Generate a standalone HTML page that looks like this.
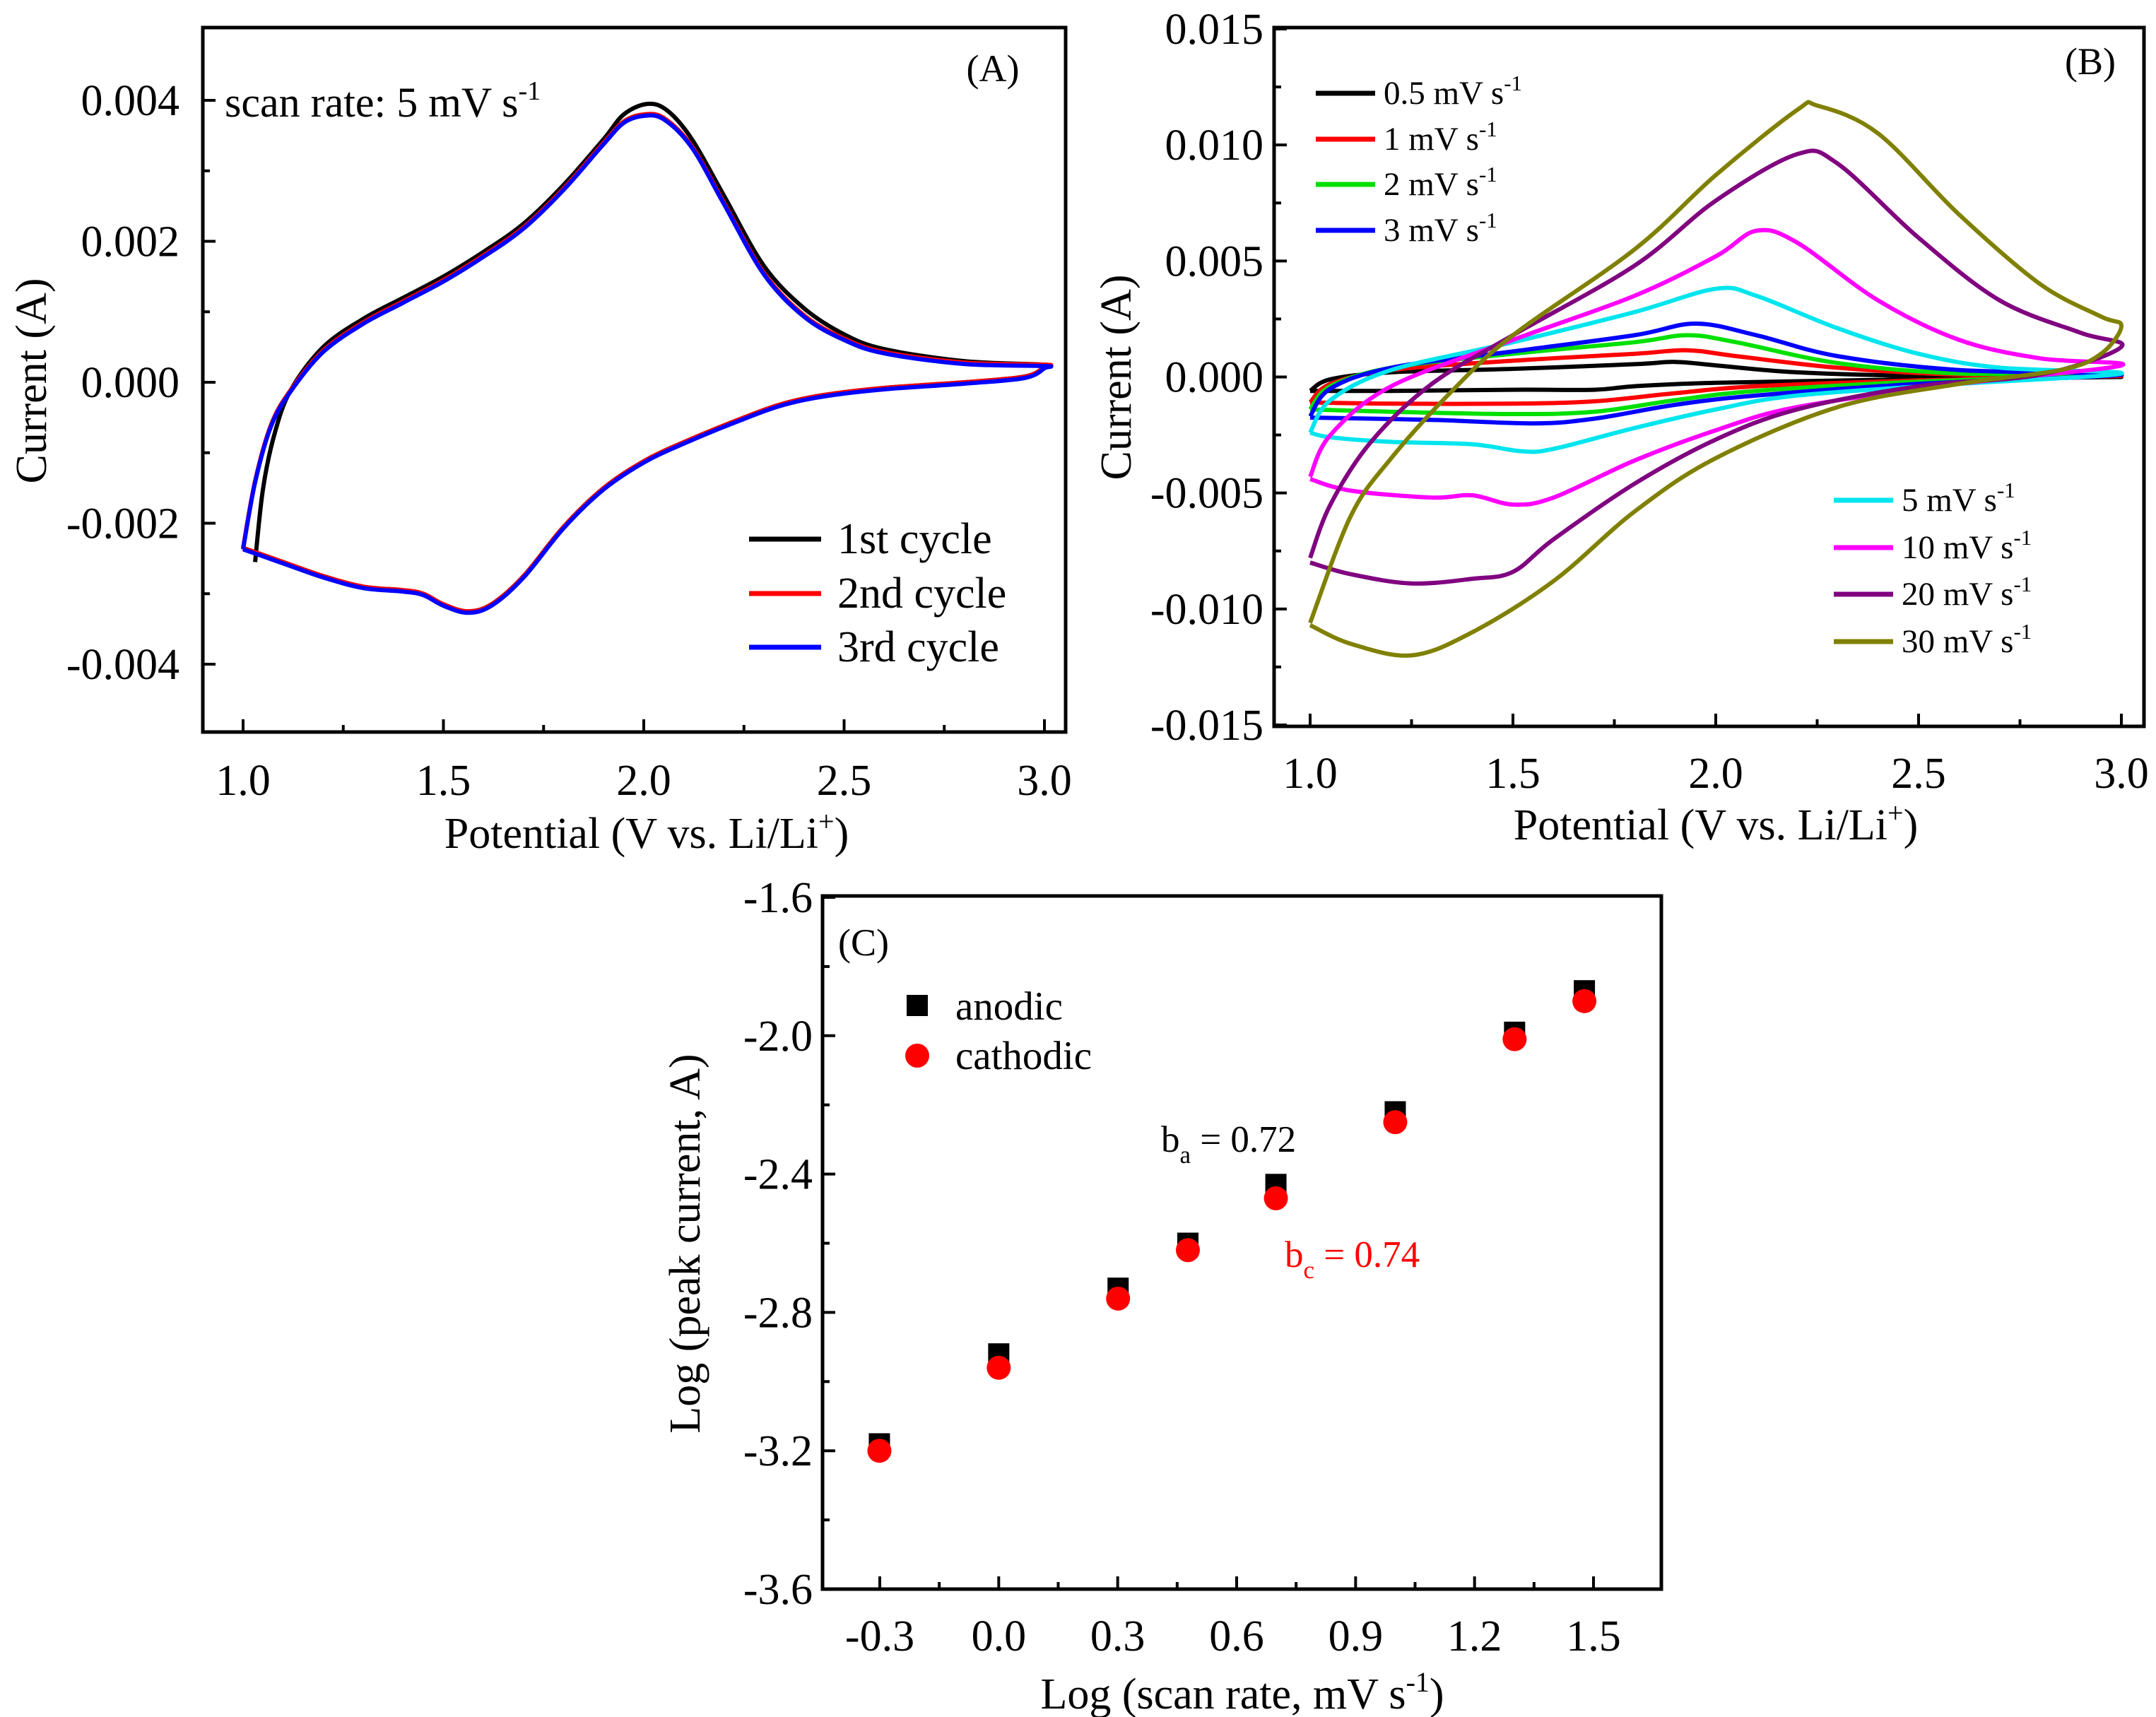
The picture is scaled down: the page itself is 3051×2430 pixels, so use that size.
<!DOCTYPE html>
<html><head><meta charset="utf-8"><style>
html,body{margin:0;padding:0;background:#fff;}
svg{display:block;font-family:"Liberation Serif",serif;}
</style></head><body>
<svg id="fig" width="3051" height="2430" viewBox="0 0 3051 2430" xmlns="http://www.w3.org/2000/svg">
<rect width="3051" height="2430" fill="#fff"/>
</svg>
<script>
// ---------- Panel A data (V, mA) ----------
const aC1Fwd=[[1.03,-2.55],[1.05,-1.5],[1.08,-0.7],[1.12,-0.1],[1.2,0.5],[1.3,0.9],[1.4,1.2],[1.5,1.5],[1.6,1.85],[1.7,2.25],[1.8,2.8],[1.9,3.45],[1.95,3.8],[2.01,3.95],[2.06,3.85],[2.12,3.45],[2.2,2.65],[2.3,1.65],[2.4,1.05],[2.5,0.68],[2.6,0.47],[2.8,0.3],[3.0,0.25]];
const aC2Fwd=[[1.0,-2.35],[1.03,-1.4],[1.07,-0.6],[1.12,-0.1],[1.2,0.45],[1.3,0.85],[1.4,1.15],[1.5,1.45],[1.6,1.8],[1.7,2.2],[1.8,2.75],[1.9,3.4],[1.95,3.7],[2.0,3.8],[2.05,3.75],[2.12,3.35],[2.2,2.55],[2.3,1.55],[2.4,0.95],[2.5,0.62],[2.6,0.43],[2.8,0.28],[3.0,0.25]];
const aRev=[[3.0,0.22],[2.95,0.08],[2.8,0.0],[2.6,-0.08],[2.45,-0.18],[2.35,-0.3],[2.25,-0.5],[2.1,-0.85],[2.0,-1.12],[1.9,-1.5],[1.8,-2.05],[1.7,-2.75],[1.62,-3.15],[1.56,-3.25],[1.5,-3.15],[1.45,-3.0],[1.4,-2.95],[1.3,-2.9],[1.2,-2.75],[1.1,-2.55],[1.0,-2.35]];
const aSeriesNames=["1st cycle","2nd cycle","3rd cycle"];
const aColors=["#000000","#ff0000","#0000ff"];
const aXTicks=[1.0,1.5,2.0,2.5,3.0];
const aYTicks=[0.004,0.002,0.000,-0.002,-0.004];

// ---------- Panel B data (V, mA) ----------
const bNames=["0.5 mV s","1 mV s","2 mV s","3 mV s","5 mV s","10 mV s","20 mV s","30 mV s"];
const bColors=["#000000","#ff0000","#00e000","#0000ff","#00e5ee","#ff00ff","#800080","#808000"];
const b05=[[1,-0.6],[1.05,-0.1],[1.2,0.2],[1.5,0.35],[1.8,0.55],[1.9,0.65],[2.0,0.5],[2.2,0.2],[2.5,0.05],[3,0.0],[2.5,-0.1],[2.0,-0.25],[1.8,-0.4],[1.7,-0.55],[1.5,-0.55],[1.2,-0.6],[1,-0.6]];
const b1=[[1,-1.1],[1.05,-0.3],[1.2,0.3],[1.5,0.7],[1.8,1.0],[1.93,1.15],[2.05,0.9],[2.3,0.4],[2.6,0.1],[3,0.05],[2.5,-0.15],[2.1,-0.4],[1.9,-0.7],[1.7,-1.05],[1.5,-1.15],[1.2,-1.15],[1,-1.1]];
const b2=[[1,-1.4],[1.05,-0.4],[1.2,0.4],[1.5,1.0],[1.8,1.5],[1.93,1.8],[2.05,1.5],[2.3,0.6],[2.6,0.15],[3,0.1],[2.5,-0.2],[2.1,-0.6],[1.9,-1.0],[1.7,-1.5],[1.5,-1.6],[1.2,-1.5],[1,-1.4]];
const b3=[[1,-1.7],[1.05,-0.5],[1.2,0.4],[1.5,1.1],[1.8,1.8],[1.95,2.3],[2.1,1.8],[2.3,0.9],[2.6,0.3],[3,0.1],[2.5,-0.3],[2.1,-0.8],[1.9,-1.2],[1.7,-1.8],[1.55,-2.0],[1.3,-1.85],[1,-1.75]];
const b5=[[1,-2.4],[1.05,-1.0],[1.2,0.3],[1.5,1.5],[1.8,2.8],[2.0,3.8],[2.1,3.5],[2.3,2.1],[2.5,1.0],[2.7,0.4],[3,0.15],[2.6,-0.3],[2.2,-0.8],[2.0,-1.4],[1.8,-2.2],[1.6,-3.1],[1.52,-3.2],[1.4,-2.9],[1.2,-2.8],[1.05,-2.6],[1,-2.4]];
const b10=[[1,-4.3],[1.05,-2.5],[1.2,-0.4],[1.5,1.6],[1.8,3.5],[2.0,5.2],[2.1,6.3],[2.2,5.8],[2.4,3.3],[2.6,1.6],[2.8,0.8],[3,0.5],[2.6,-0.3],[2.2,-1.3],[2.0,-2.3],[1.8,-3.6],[1.6,-5.2],[1.5,-5.5],[1.4,-5.1],[1.3,-5.2],[1.1,-4.9],[1,-4.4]];
const b20=[[1,-7.8],[1.05,-5.5],[1.15,-2.8],[1.3,-0.3],[1.5,1.8],[1.8,4.8],[2.0,7.6],[2.2,9.6],[2.3,9.2],[2.5,6.0],[2.7,3.3],[2.9,1.9],[3,1.3],[2.8,0.1],[2.5,-0.4],[2.2,-1.4],[2.0,-2.7],[1.8,-4.6],[1.6,-7.0],[1.5,-8.4],[1.4,-8.7],[1.25,-8.9],[1.1,-8.5],[1,-8.0]];
const b30=[[1,-10.6],[1.1,-6.0],[1.2,-3.5],[1.35,-0.6],[1.5,1.8],[1.8,5.5],[2.0,8.7],[2.2,11.5],[2.25,11.7],[2.4,10.5],[2.6,7.0],[2.8,4.0],[2.95,2.6],[3,2.2],[2.95,1.0],[2.85,0.3],[2.6,-0.3],[2.3,-1.3],[2.0,-3.5],[1.8,-5.8],[1.6,-8.8],[1.4,-11.0],[1.25,-12.0],[1.1,-11.5],[1,-10.7]];
const bXTicks=[1.0,1.5,2.0,2.5,3.0];
const bYTicks=[0.015,0.010,0.005,0.000,-0.005,-0.010,-0.015];

// ---------- Panel C data ----------
const cX=[-0.301,0,0.301,0.477,0.699,1.0,1.301,1.477];
const cAnodic=[-3.18,-2.92,-2.73,-2.60,-2.43,-2.22,-1.99,-1.87];
const cCathodic=[-3.20,-2.96,-2.76,-2.62,-2.47,-2.25,-2.01,-1.90];
const cXTicks=[-0.3,0.0,0.3,0.6,0.9,1.2,1.5];
const cYTicks=[-1.6,-2.0,-2.4,-2.8,-3.2,-3.6];

const NS="http://www.w3.org/2000/svg";
const svg=document.getElementById('fig');
const TICKFS=62;
function mk(tag,attrs,parent){const e=document.createElementNS(NS,tag);for(const k in attrs)e.setAttribute(k,attrs[k]);(parent||svg).appendChild(e);return e;}
function lin(d0,d1,r0,r1){return v=>r0+(v-d0)*(r1-r0)/(d1-d0);}
function smooth(pts){let d="M"+pts[0][0].toFixed(1)+","+pts[0][1].toFixed(1);
 for(let i=0;i<pts.length-1;i++){const p0=pts[Math.max(i-1,0)],p1=pts[i],p2=pts[i+1],p3=pts[Math.min(i+2,pts.length-1)];
  const c1=[p1[0]+(p2[0]-p0[0])/6,p1[1]+(p2[1]-p0[1])/6],c2=[p2[0]-(p3[0]-p1[0])/6,p2[1]-(p3[1]-p1[1])/6];
  d+=" C"+c1[0].toFixed(1)+","+c1[1].toFixed(1)+" "+c2[0].toFixed(1)+","+c2[1].toFixed(1)+" "+p2[0].toFixed(1)+","+p2[1].toFixed(1);}
 return d;}
function txt(x,y,s,size,anchor,parent,fill){const t=mk('text',{x:x,y:y,'font-size':size,'text-anchor':anchor||'start',fill:fill||'#000'},parent);t.textContent=s;return t;}

function frame(g,L,T,R,B,name){
 const r=mk('rect',{x:L,y:T,width:R-L,height:B-T,fill:'none',stroke:'#000','stroke-width':5},g);
 
 
}
function xAxis(g,sx,ticks,minors,B,labY,fmt,name){
 const ax=mk('g',{},g);
 
 
 ticks.forEach(v=>{mk('line',{x1:sx(v),y1:B,x2:sx(v),y2:B-18,stroke:'#000','stroke-width':4},ax);txt(sx(v),labY,fmt(v),TICKFS,'middle',ax);});
 minors.forEach(v=>mk('line',{x1:sx(v),y1:B,x2:sx(v),y2:B-10,stroke:'#000','stroke-width':4},ax));
}
function yAxis(g,sy,ticks,minors,L,labX,fmt,name){
 const ax=mk('g',{},g);
 
 
 ticks.forEach(v=>{mk('line',{x1:L,y1:sy(v),x2:L+18,y2:sy(v),stroke:'#000','stroke-width':4},ax);txt(labX,sy(v)+21,fmt(v),TICKFS,'end',ax);});
 minors.forEach(v=>mk('line',{x1:L,y1:sy(v),x2:L+10,y2:sy(v),stroke:'#000','stroke-width':4},ax));
}
function fmtY(v){return v.toFixed(3);}

// ===== Panel A =====
(function(){
 const g=mk('g',{});
 const L=287,T=39,R=1508,B=1036;
 const sx=lin(1,3,344,1478), sy=lin(0.004,-0.004,142,940);
 const cycles=[aC1Fwd.concat(aRev),aC2Fwd.concat(aRev),aC2Fwd.concat(aRev)];
 cycles.forEach((c,i)=>{const p=mk('path',{d:smooth(c.map(q=>[sx(q[0]),sy(q[1]/1000)+(i==2?2:0)])),fill:'none',stroke:aColors[i],'stroke-width':6,'stroke-linejoin':'round'},g);
  
  });
 frame(g,L,T,R,B,'panel-a');
 xAxis(g,sx,aXTicks,[1.25,1.75,2.25,2.75],B,1125,v=>v.toFixed(1),'panel-a-x-axis');
 yAxis(g,sy,aYTicks,[0.003,0.001,-0.001,-0.003],L,254,fmtY,'panel-a-y-axis');
 const xt=txt(915,1200,'Potential (V vs. Li/Li',62,'middle',g);const s=mk('tspan',{dy:-24,'font-size':40},xt);s.textContent='+';const s2=mk('tspan',{dy:24},xt);s2.textContent=')';
 
 const yt=txt(0,0,'Current (A)',62,'middle',g);yt.setAttribute('transform','translate(65,539) rotate(-90)');
 
 const st=txt(318,165,'scan rate: 5 mV s',60,'start',g);const sp=mk('tspan',{dy:-24,'font-size':38},st);sp.textContent='-1';
 
 const pl=txt(1405,115,'(A)',54,'middle',g);
 const ly=[763,840,916];
 aSeriesNames.forEach((n,i)=>{const le=mk('g',{},g);
  mk('line',{x1:1060,y1:ly[i],x2:1162,y2:ly[i],stroke:aColors[i],'stroke-width':7},le);txt(1185,ly[i]+20,n,62,'start',le);});
})();

// ===== Panel B =====
(function(){
 const g=mk('g',{});
 const L=1803,T=39,R=3034,B=1028;
 const sx=lin(1,3,1854,3002), sy=lin(0.015,-0.015,41,1026);
 const series=[b05,b1,b2,b3,b5,b10,b20,b30];
 series.forEach((c,i)=>{const p=mk('path',{d:smooth(c.map(q=>[sx(q[0]),sy(q[1]/1000)])),fill:'none',stroke:bColors[i],'stroke-width':6,'stroke-linejoin':'round'},g);
  
  });
 frame(g,L,T,R,B,'panel-b');
 xAxis(g,sx,bXTicks,[1.25,1.75,2.25,2.75],B,1115,v=>v.toFixed(1),'panel-b-x-axis');
 yAxis(g,sy,bYTicks,[0.0125,0.0075,0.0025,-0.0025,-0.0075,-0.0125],L,1788,fmtY,'panel-b-y-axis');
 const xt=txt(2428,1188,'Potential (V vs. Li/Li',62,'middle',g);const s=mk('tspan',{dy:-24,'font-size':40},xt);s.textContent='+';const s2=mk('tspan',{dy:24},xt);s2.textContent=')';
 
 const yt=txt(0,0,'Current (A)',62,'middle',g);yt.setAttribute('transform','translate(1600,534) rotate(-90)');
 
 const pl=txt(2958,105,'(B)',54,'middle',g);
 const pos=[[1862,132],[1862,197],[1862,261],[1862,326],[2595,708],[2595,775],[2595,841],[2595,908]];
 bNames.forEach((n,i)=>{const le=mk('g',{},g);
  const [x,y]=pos[i];mk('line',{x1:x,y1:y,x2:x+84,y2:y,stroke:bColors[i],'stroke-width':7},le);
  const t=txt(x+96,y+15,n,47,'start',le);const sp=mk('tspan',{dy:-19,'font-size':31},t);sp.textContent='-1';});
})();

// ===== Panel C =====
(function(){
 const g=mk('g',{});
 const L=1164,T=1268,R=2351,B=2249;
 const sx=lin(-0.3,1.5,1245,2255), sy=lin(-1.6,-3.6,1270,2249);
 frame(g,L,T,R,B,'panel-c');
 xAxis(g,sx,cXTicks,[-0.15,0.15,0.45,0.75,1.05,1.35],B,2336,v=>v.toFixed(1),'panel-c-x-axis');
 yAxis(g,sy,cYTicks,[-1.8,-2.2,-2.6,-3.0,-3.4],L,1150,v=>v.toFixed(1),'panel-c-y-axis');
 cX.forEach((x,i)=>{const r=mk('rect',{x:sx(x)-15,y:sy(cAnodic[i])-15,width:30,height:30,fill:'#000'},g);
  });
 cX.forEach((x,i)=>{const c=mk('circle',{cx:sx(x),cy:sy(cCathodic[i]),r:17,fill:'#ff0000'},g);
  });
 const xt=txt(1758,2418,'Log (scan rate, mV s',62,'middle',g);const s=mk('tspan',{dy:-24,'font-size':40},xt);s.textContent='-1';const s2=mk('tspan',{dy:24},xt);s2.textContent=')';
 
 const yt=txt(0,0,'Log (peak current, A)',62,'middle',g);yt.setAttribute('transform','translate(990,1760) rotate(-90)');
 
 const pl=txt(1222,1352,'(C)',54,'middle',g);
 const l1=mk('g',{},g);
 mk('rect',{x:1283,y:1408,width:30,height:30,fill:'#000'},l1);txt(1352,1443,'anodic',57,'start',l1);
 const l2=mk('g',{},g);
 mk('circle',{cx:1298,cy:1494,r:17,fill:'#ff0000'},l2);txt(1352,1513,'cathodic',57,'start',l2);
 const ba=txt(1643,1630,'b',53,'start',g);const bs=mk('tspan',{dy:16,'font-size':35},ba);bs.textContent='a';const br=mk('tspan',{dy:-16},ba);br.textContent=' = 0.72';
 
 const bc=txt(1818,1793,'b',53,'start',g,'#ff0000');const cs=mk('tspan',{dy:16,'font-size':35},bc);cs.textContent='c';const cr=mk('tspan',{dy:-16},bc);cr.textContent=' = 0.74';
 
})();
</script>
</body></html>
